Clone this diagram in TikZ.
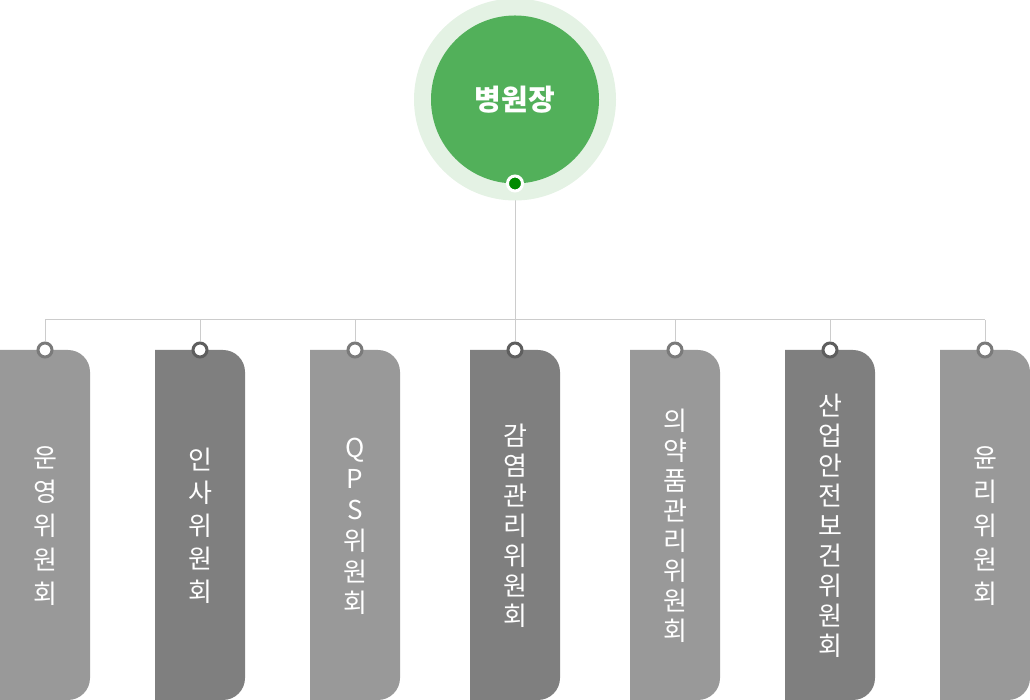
\documentclass[tikz,border=0pt]{standalone}
\usepackage{fontspec}
\setmainfont{Noto Sans CJK KR}
\usetikzlibrary{backgrounds}
\definecolor{boxlight}{HTML}{999999}
\definecolor{boxdark}{HTML}{7F7F7F}
\definecolor{ringlight}{HTML}{7A7A7A}
\definecolor{ringdark}{HTML}{5E5E5E}
\definecolor{outergreen}{HTML}{E4F2E4}
\definecolor{innergreen}{HTML}{52B05A}
\definecolor{dotgreen}{HTML}{008A00}
\definecolor{connline}{HTML}{CCCCCC}
\tikzset{
  ring/.style={circle,line width=3pt,fill=white,minimum size=14pt,inner sep=0pt},
  boxtext/.style={text=white,align=center,inner sep=0pt},
  conn/.style={draw=connline,line width=1pt},
}
\newcommand{\orgbox}[6]{%
  \fill[#2] (#1,350) -- ({#1+68},350) arc[start angle=90,end angle=0,radius=22] -- ({#1+90},22) arc[start angle=0,end angle=-90,radius=22] -- (#1,0) -- cycle;
  \node[ring,draw=#3] (r#4) at ({#1+45},350) {};
  \node[boxtext,font=\fontsize{26}{#5}\selectfont] (t#4) at ({#1+45},174) {#6};
}
\begin{document}
\begin{tikzpicture}[x=1pt,y=1pt]
\useasboundingbox (0,0) rectangle (1030,700);
\node[circle,fill=outergreen,minimum size=202pt,inner sep=0pt] (outer) at (515,600.5) {};
\node[circle,fill=innergreen,minimum size=168pt,inner sep=0pt,text=white,font=\fontsize{29}{34}\selectfont\bfseries] (boss) at (515,600.5) {병원장};
\node[circle,fill=dotgreen,draw=white,line width=3pt,minimum size=15pt,inner sep=0pt] (dot) at (515,516.5) {};
\coordinate (hub) at (515,380);
\orgbox{0}{boxlight}{ringlight}{1}{34}{운\\영\\위\\원\\회}
\orgbox{155}{boxdark}{ringdark}{2}{33}{인\\사\\위\\원\\회}
\orgbox{310}{boxlight}{ringlight}{3}{31}{Q\\P\\S\\위\\원\\회}
\orgbox{470}{boxdark}{ringdark}{4}{30}{감\\염\\관\\리\\위\\원\\회}
\orgbox{630}{boxlight}{ringlight}{5}{30}{의\\약\\품\\관\\리\\위\\원\\회}
\orgbox{785}{boxdark}{ringdark}{6}{30}{산\\업\\안\\전\\보\\건\\위\\원\\회}
\orgbox{940}{boxlight}{ringlight}{7}{34}{윤\\리\\위\\원\\회}
\begin{pgfonlayer}{background}
\draw[conn] (dot) -- (hub);
\draw[conn] (r1 |- hub) -- (r7 |- hub);
\foreach \i in {1,...,7} {\draw[conn] (r\i) -- (r\i |- hub);}
\end{pgfonlayer}
\end{tikzpicture}
\end{document}
